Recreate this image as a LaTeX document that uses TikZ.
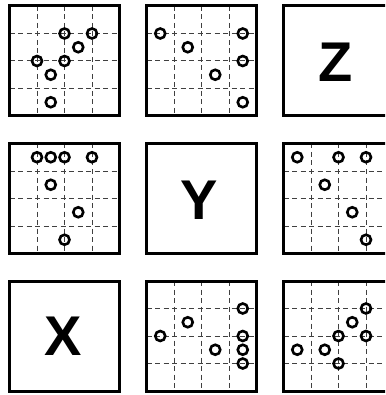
\documentclass[tikz,border=0pt]{standalone}
\usepackage{fontspec}
\setsansfont{Liberation Sans}
\newcommand\puzzlegrid{%
  \foreach \g in {27.5,55,82.5}{
    \draw[gridline] (\g,0) -- (\g,110);
    \draw[gridline] (0,\g) -- (110,\g);
  }%
  \draw[frame] (0,0) rectangle (110,110);%
}
\begin{document}
\begin{tikzpicture}[x=1pt,y=-1pt,
  frame/.style={draw=black,line width=3pt},
  gridline/.style={draw=black!75,line width=1pt,dash pattern=on 5pt off 3.5pt},
  dot/.style={circle,draw=black,line width=2.6pt,inner sep=0pt,minimum size=10pt},
  letter/.style={font=\sffamily\bfseries\fontsize{56}{56}\selectfont,inner sep=0pt}]
\useasboundingbox (0,0) rectangle (385,395);
\clip (0,0) rectangle (385,395);
% row 1, col 1
\begin{scope}[shift={(9.5,6)}]
  \puzzlegrid
  \foreach \cx/\cy [count=\i] in {2/1,3/1,2.5/1.5,1/2,2/2,1.5/2.5,1.5/3.5}
    \node[dot] (a\i) at (27.5*\cx,27.5*\cy) {};
\end{scope}
% row 1, col 2
\begin{scope}[shift={(146.5,6)}]
  \puzzlegrid
  \foreach \cx/\cy [count=\i] in {0.5/1,1.5/1.5,3.5/1,3.5/2,2.5/2.5,3.5/3.5}
    \node[dot] (b\i) at (27.5*\cx,27.5*\cy) {};
\end{scope}
% row 1, col 3
\begin{scope}[shift={(283.5,6)}]
  \draw[frame] (0,0) rectangle (110,110);
  \node[letter] (Z) at (52,56.5) {Z};
\end{scope}
% row 2, col 1
\begin{scope}[shift={(9.5,143.5)}]
  \puzzlegrid
  \foreach \cx/\cy [count=\i] in {1/0.5,1.5/0.5,2/0.5,3/0.5,1.5/1.5,2.5/2.5,2/3.5}
    \node[dot] (d\i) at (27.5*\cx,27.5*\cy) {};
\end{scope}
% row 2, col 2
\begin{scope}[shift={(146.5,143.5)}]
  \draw[frame] (0,0) rectangle (110,110);
  \node[letter] (Y) at (53,56.5) {Y};
\end{scope}
% row 2, col 3
\begin{scope}[shift={(283.5,143.5)}]
  \puzzlegrid
  \foreach \cx/\cy [count=\i] in {0.5/0.5,2/0.5,3/0.5,1.5/1.5,2.5/2.5,3/3.5}
    \node[dot] (f\i) at (27.5*\cx,27.5*\cy) {};
\end{scope}
% row 3, col 1
\begin{scope}[shift={(9.5,281)}]
  \draw[frame] (0,0) rectangle (110,110);
  \node[letter] (X) at (53.5,55) {X};
\end{scope}
% row 3, col 2
\begin{scope}[shift={(146.5,281)}]
  \puzzlegrid
  \foreach \cx/\cy [count=\i] in {3.5/1,1.5/1.5,0.5/2,3.5/2,2.5/2.5,3.5/2.5,3.5/3}
    \node[dot] (h\i) at (27.5*\cx,27.5*\cy) {};
\end{scope}
% row 3, col 3
\begin{scope}[shift={(283.5,281)}]
  \puzzlegrid
  \foreach \cx/\cy [count=\i] in {3/1,2.5/1.5,2/2,3/2,0.5/2.5,1.5/2.5,2/3}
    \node[dot] (k\i) at (27.5*\cx,27.5*\cy) {};
\end{scope}
\end{tikzpicture}
\end{document}
